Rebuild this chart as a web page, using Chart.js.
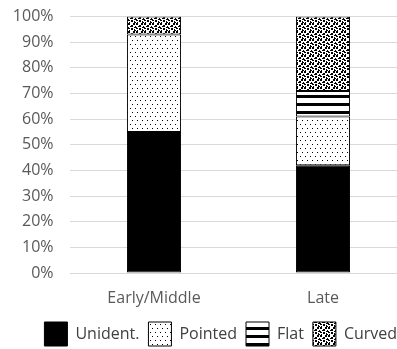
<!DOCTYPE html>
<html>
<head>
<meta charset="utf-8">
<script src="https://cdn.jsdelivr.net/npm/chart.js@4/dist/chart.umd.min.js"></script>
<style>
  html, body { margin: 0; padding: 0; background: #fff; overflow: hidden; }
  #wrap { width: 397px; height: 349px; overflow: hidden; position: relative; }
  canvas { position: absolute; left: 0; top: -9px; }
</style>
</head>
<body>
<div id="wrap"><canvas id="c" width="420" height="365"></canvas></div>
<script>
// Share of point shapes per period (percent)
const periods = ['Early/Middle', 'Late'];
const unidentified = [55, 42];
const pointed = [38, 19];
const flat = [0, 10];
const curved = [7, 29];
const seriesNames = ['Unident.', 'Pointed', 'Flat', 'Curved'];
const yTicks = [0, 10, 20, 30, 40, 50, 60, 70, 80, 90, 100];

// Build a repeating fill pattern from a tiny bitmap ('X' = black)
function bitmapPattern(rows) {
  const t = document.createElement('canvas');
  t.width = rows[0].length;
  t.height = rows.length;
  const g = t.getContext('2d');
  g.fillStyle = '#fff';
  g.fillRect(0, 0, t.width, t.height);
  g.fillStyle = '#000';
  rows.forEach((r, y) => {
    for (let x = 0; x < r.length; x++) if (r[x] === 'X') g.fillRect(x, y, 1, 1);
  });
  return g.createPattern(t, 'repeat');
}

const dotFill = bitmapPattern([
  '..........',
  '..X....X..',
  '..........',
  '..........',
  '..........',
  'X....X....',
  '..........',
  '..........'
]);
const stripeFill = bitmapPattern([
  'XXXX',
  'XXXX',
  'XXXX',
  '....',
  '....',
  '....',
  '....',
  '....'
]);
const confettiFill = bitmapPattern([
  'XX...XX.',
  'XX...XX.',
  '...XX...',
  '..XXX..X',
  'X.....XX',
  'XX.XX...',
  '...XX.X.',
  '.X....XX'
]);

const fills = ['#000', dotFill, stripeFill, confettiFill];
const values = [unidentified, pointed, flat, curved];
const textFont = { family: 'Open Sans', size: 16 };

// Nudge the legend row to the right of the plot's centre line
const legendShift = {
  id: 'legendShift',
  afterLayout(chart) {
    if (chart.legend) {
      chart.legend.left += 17;
      chart.legend.right += 17;
    }
  }
};

new Chart(document.getElementById('c'), {
  type: 'bar',
  data: {
    labels: periods,
    datasets: seriesNames.map((name, i) => ({
      label: name,
      data: values[i],
      backgroundColor: fills[i],
      borderColor: '#000',
      borderWidth: 1,
      borderSkipped: false,
      categoryPercentage: 0.8,
      barPercentage: 0.4
    }))
  },
  options: {
    responsive: false,
    animation: false,
    layout: { padding: { top: 8, right: 12.5, left: 0, bottom: 0 } },
    scales: {
      x: {
        stacked: true,
        afterFit: s => { s.height = 40; },
        grid: { display: false, drawTicks: false },
        border: { display: false },
        ticks: { color: '#595959', font: textFont, padding: 16 }
      },
      y: {
        stacked: true,
        min: 0,
        max: 100,
        afterFit: s => { s.width = 69.5; },
        afterBuildTicks: s => { s.ticks = yTicks.map(v => ({ value: v })); },
        grid: { color: '#d9d9d9', lineWidth: 1, drawTicks: false },
        border: { display: false },
        ticks: {
          color: '#595959',
          font: textFont,
          padding: 16,
          callback: v => v + '%'
        }
      }
    },
    plugins: {
      tooltip: { enabled: false },
      legend: {
        position: 'bottom',
        labels: {
          color: '#404040',
          font: textFont,
          boxWidth: 23,
          boxHeight: 24,
          padding: 9
        }
      }
    }
  },
  plugins: [legendShift]
});
</script>
</body>
</html>
